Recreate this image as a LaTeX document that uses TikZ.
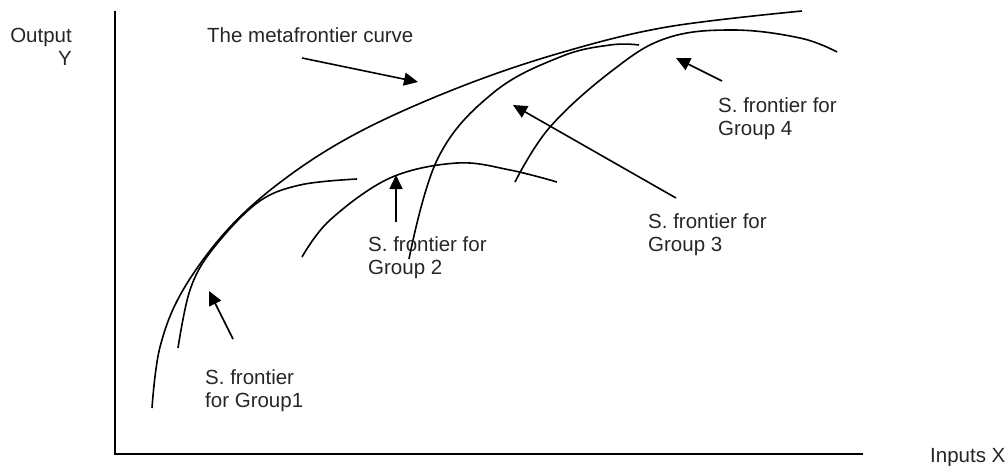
\documentclass[tikz,border=0pt]{standalone}
\usepackage{fontspec}
\setmainfont{Liberation Sans}
\usetikzlibrary{arrows.meta}
\begin{document}
\begin{tikzpicture}[x=1pt,y=-1pt,
 curve/.style={line width=1.6pt},
 lab/.style={inner sep=0pt, anchor=base west, align=left, font=\fontsize{20.5}{23}\selectfont, text=black!85},
 pointer/.style={line width=1.6pt, -{Triangle[length=14pt,width=13pt]}}]
\useasboundingbox (0,0) rectangle (1007,466);
% axes
\coordinate (ytop) at (115,11);
\coordinate (O) at (115,454);
\coordinate (xend) at (863,454);
\draw[line width=1.7pt] (ytop) -- (O) -- (xend);
% axis labels (base anchor = last line)
\node[inner sep=0pt, anchor=base east, align=right, font=\fontsize{20.5}{23}\selectfont, text=black!85] (ylab) at (72,65) {Output\\Y};
\node[lab] (xlab) at (930,462) {Inputs X};
% metafrontier
\draw[curve] plot[smooth, tension=0.6] coordinates {(152,408) (160,347) (183,290) (230,227) (290,175) (363,130) (460,87) (560,53) (667,27) (802,11)};
% group 1
\draw[curve] plot[smooth, tension=0.6] coordinates {(178,348) (190,290) (212,250) (257,203) (300,185) (357,179)};
% group 2
\draw[curve] plot[smooth, tension=0.6] coordinates {(302,257) (330,220) (390,178) (457,163) (510,170) (557,182)};
% group 3
\draw[curve] plot[smooth, tension=0.65] coordinates {(409,259) (438,158) (493,93) (560,57) (610,45) (639,45)};
% group 4
\draw[curve] plot[smooth, tension=0.65] coordinates {(515,182) (550,127) (613,70) (667,38) (733,30) (800,38) (837,52)};
% labels (base anchor = last line)
\node[lab] (lmeta) at (207,42) {The metafrontier curve};
\node[lab] (l1) at (205,407) {S. frontier\\for Group1};
\node[lab] (l2) at (368,274) {S. frontier for\\Group 2};
\node[lab] (l3) at (648,251) {S. frontier for\\Group 3};
\node[lab] (l4) at (718,135) {S. frontier for\\Group 4};
% pointer ends
\coordinate (am0) at (302,58);  \coordinate (am1) at (418,82);
\coordinate (a10) at (233,339); \coordinate (a11) at (209,291);
\coordinate (a20) at (396,222); \coordinate (a21) at (396,175);
\coordinate (a30) at (676,198); \coordinate (a31) at (513,105);
\coordinate (a40) at (722,81);  \coordinate (a41) at (676,58);
\draw[pointer] (am0) -- (am1);
\draw[pointer] (a10) -- (a11);
\draw[pointer] (a20) -- (a21);
\draw[pointer] (a30) -- (a31);
\draw[pointer] (a40) -- (a41);
\end{tikzpicture}
\end{document}
